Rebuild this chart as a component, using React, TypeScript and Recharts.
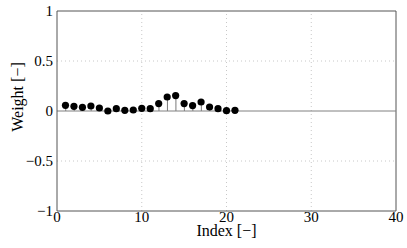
import { ComposedChart, Bar, Scatter, XAxis, YAxis, ReferenceLine, Label } from 'recharts'

const indices = [1, 2, 3, 4, 5, 6, 7, 8, 9, 10, 11, 12, 13, 14, 15, 16, 17, 18, 19, 20, 21]
const weights = [0.057, 0.047, 0.037, 0.05, 0.03, 0.0, 0.023, 0.007, 0.01, 0.027, 0.023, 0.074, 0.14, 0.154, 0.074, 0.054, 0.09, 0.04, 0.023, 0.003, 0.007]
const xTicks = [0, 10, 20, 30, 40]
const yTicks = [-1, -0.5, 0, 0.5, 1]
const xGrid = [10, 20, 30]
const yGrid = [-0.5, 0.5]

const data = indices.map((index, i) => ({ index, weight: weights[i] }))

const font = '"Liberation Serif", "DejaVu Serif", serif'
const axisColor = '#555'
const gridColor = '#c8c8c8'

const fmt = (v: number) => (v < 0 ? '\u2212' + Math.abs(v) : String(v))

const Dot = (props: any) => {
  const { cx, cy } = props
  return <circle cx={cx} cy={cy} r={3.6} fill="#000" />
}

export default function App() {
  return (
    <div style={{ position: 'absolute', left: 0, top: 0, background: '#fff' }}>
      <ComposedChart
        width={407}
        height={248}
        data={data}
        margin={{ top: 11, right: 11, bottom: 0, left: 7 }}
      >
        <XAxis
          dataKey="index"
          type="number"
          domain={[0, 40]}
          ticks={xTicks}
          height={37}
          tickLine={false}
          tickSize={0}
          tickMargin={0}
          stroke={axisColor}
          tick={{ fill: '#000', fontSize: 15, fontFamily: font }}
          label={
            <Label
              content={(p: any) => (
                <text
                  x={p.viewBox.x + p.viewBox.width / 2}
                  y={p.viewBox.y + 25}
                  textAnchor="middle"
                  fontSize={16}
                  fontFamily={font}
                  fill="#000"
                >
                  Index [−]
                </text>
              )}
            />
          }
        />
        <YAxis
          type="number"
          domain={[-1, 1]}
          ticks={yTicks}
          width={50}
          tickLine={false}
          tickSize={0}
          tickMargin={4}
          tickFormatter={fmt}
          stroke={axisColor}
          tick={{ fill: '#000', fontSize: 15, fontFamily: font }}
          label={
            <Label
              content={(p: any) => (
                <text
                  x={p.viewBox.x + 10}
                  y={97}
                  textAnchor="middle"
                  dominantBaseline="central"
                  transform={`rotate(-90 ${p.viewBox.x + 10} 97)`}
                  fontSize={16}
                  fontFamily={font}
                  fill="#000"
                >
                  Weight [−]
                </text>
              )}
            />
          }
        />
        {xGrid.map((v) => (
          <ReferenceLine key={'gx' + v} x={v} stroke={gridColor} strokeDasharray="1 3" />
        ))}
        {yGrid.map((v) => (
          <ReferenceLine key={'gy' + v} y={v} stroke={gridColor} strokeDasharray="1 3" />
        ))}
        <ReferenceLine y={1} stroke={axisColor} strokeWidth={1} />
        <ReferenceLine x={40} stroke={axisColor} strokeWidth={1} />
        <ReferenceLine y={0} stroke="#808080" strokeWidth={1} />
        <Bar dataKey="weight" barSize={1} fill="#7a7a7a" isAnimationActive={false} />
        <Scatter dataKey="weight" shape={Dot} isAnimationActive={false} />
      </ComposedChart>
    </div>
  )
}
